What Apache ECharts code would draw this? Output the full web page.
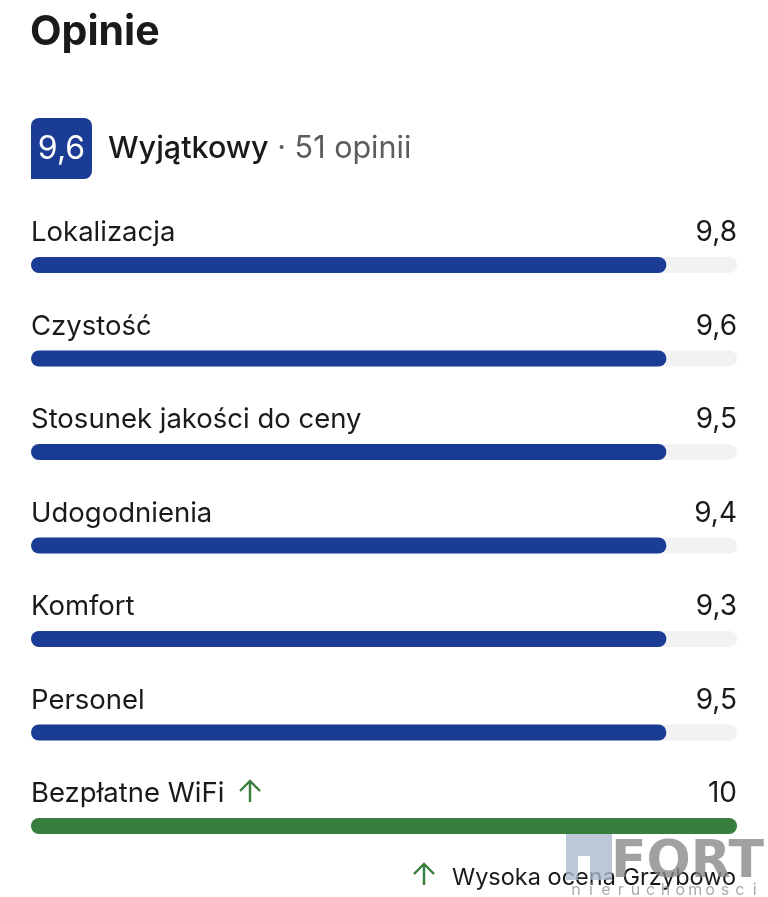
<!DOCTYPE html>
<html>
<head>
<meta charset="utf-8">
<script src="https://cdn.jsdelivr.net/npm/echarts@6/dist/echarts.min.js"></script>
<style>
html,body{margin:0;padding:0;background:#fff;}
#chart{width:768px;height:897px;}
</style>
</head>
<body>
<div id="chart"></div>
<script>
// ---- data ----
const categories = ['Lokalizacja','Czystość','Stosunek jakości do ceny','Udogodnienia','Komfort','Personel','Bezpłatne WiFi'];
const scores = [9.8, 9.6, 9.5, 9.4, 9.3, 9.5, 10];
// bar fill lengths as drawn in the picture (all blue bars stop at the same place)
const barFillRead = [9.0, 9.0, 9.0, 9.0, 9.0, 9.0, 10];
const scaleMax = 10;
const trackValues = categories.map(() => scaleMax);
const highlightedCategory = 'Bezpłatne WiFi';
const overallScore = 9.6;
const overallLabel = 'Wyjątkowy';
const reviewCount = 51;
const footnote = 'Wysoka ocena Grzybowo';
const watermarkSub = 'nieruchomości';

const fmt = v => Number.isInteger(v) ? String(v) : v.toFixed(1).replace('.', ',');
const FONT = 'Inter';

const chart = echarts.init(document.getElementById('chart'), null, {renderer:'canvas'});

function arrow(x, y, color) {
  return {
    type:'group', x:x, y:y, silent:true,
    children:[
      {type:'line', shape:{x1:0,y1:0,x2:0,y2:21}, style:{stroke:color,lineWidth:2.4}},
      {type:'polyline', shape:{points:[[-10,10],[0,0],[10,10]]}, style:{stroke:color,lineWidth:2.4,fill:null,lineJoin:'miter'}}
    ]
  };
}

const subLetters = watermarkSub.split('').map((ch, i) => ({
  type:'text', x:576 + i * 14.9, y:890,
  style:{text:ch, fill:'#9a9a9a', opacity:0.85, font:'400 16px '+FONT, textAlign:'center', textVerticalAlign:'middle'}
}));

chart.setOption({
  backgroundColor:'#ffffff',
  animation:false,
  title:{
    text:'Opinie', left:25, top:7,
    textStyle:{fontFamily:FONT,fontSize:41,fontWeight:'bold',color:'#1a1a1a'}
  },
  grid:{left:31, right:31, top:218.25, height:654.5, containLabel:false},
  xAxis:{type:'value', min:0, max:scaleMax, show:false},
  yAxis:{type:'category', data:categories, inverse:true, show:false},
  series:[
    {
      name:'track', type:'bar', data:trackValues, barWidth:16, silent:true,
      itemStyle:{color:'#f2f2f2', borderRadius:8},
      label:{
        show:true, position:['100%', -24], align:'right', verticalAlign:'middle',
        formatter:p => fmt(scores[p.dataIndex]),
        fontFamily:FONT, fontSize:28, color:'#1a1a1a'
      }
    },
    {
      name:'score', type:'bar', data:barFillRead, barWidth:16, barGap:'-100%', silent:true,
      itemStyle:{
        borderRadius:8,
        color:p => categories[p.dataIndex] === highlightedCategory ? '#377d3b' : '#1a3c94'
      },
      label:{
        show:true, position:[0, -24], align:'left', verticalAlign:'middle',
        formatter:p => categories[p.dataIndex],
        fontFamily:FONT, fontSize:27.5, color:'#1a1a1a'
      }
    }
  ],
  graphic:[
    {type:'rect', shape:{x:31,y:118,width:61,height:61,r:[8,8,8,0]}, style:{fill:'#1a3c94'}},
    {type:'text', x:61.5, y:149, style:{text:fmt(overallScore), fill:'#ffffff', font:'400 32px '+FONT, textAlign:'center', textVerticalAlign:'middle'}},
    {type:'text', x:108, y:149, style:{
      text:'{a|'+overallLabel+'}{b| · '+reviewCount+' opinii}',
      textVerticalAlign:'middle',
      rich:{
        a:{fontFamily:FONT,fontSize:30.5,fontWeight:500,fill:'#1a1a1a',color:'#1a1a1a'},
        b:{fontFamily:FONT,fontSize:30.5,fill:'#5c5c5c',color:'#5c5c5c'}
      }
    }},
    arrow(250, 781, '#377d3b'),
    arrow(424, 864, '#377d3b'),
    {type:'text', x:452, y:878, style:{text:footnote, fill:'#1a1a1a', font:'400 23.5px '+FONT, textVerticalAlign:'middle'}},
    {type:'group', silent:true, z:100, children:[
      {type:'polygon', shape:{points:[[566,836],[566,824],[574,824],[574,829],[582,829],[582,824],[596,824],[596,829],[604,829],[604,824],[612,824],[612,880],[590,880],[590,856],[578,856],[578,880],[566,880]]},
        style:{fill:'#a9b7cf', opacity:0.78}},
      {type:'text', x:611, y:863, style:{text:'FORT', fill:'#8a8a8a', opacity:0.8, font:'bold 52px "DejaVu Sans"', textVerticalAlign:'middle'}}
    ].concat(subLetters)}
  ]
});
</script>
</body>
</html>
